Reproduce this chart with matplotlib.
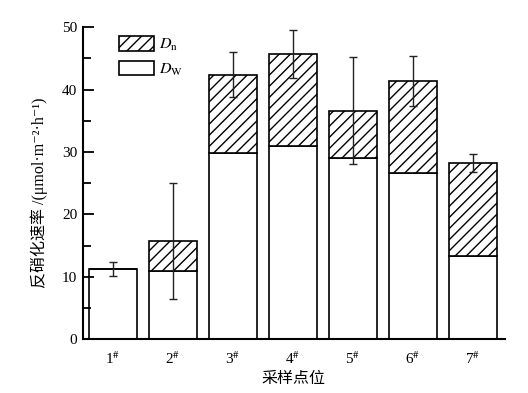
import numpy as np
import matplotlib
matplotlib.use("Agg")
import matplotlib.pyplot as plt
from matplotlib.patches import Patch

plt.rcParams['font.family'] = ['Liberation Serif', 'Noto Sans CJK SC', 'DejaVu Serif']
plt.rcParams['mathtext.fontset'] = 'stix'
plt.rcParams['hatch.linewidth'] = 1.0

sites = ["1", "2", "3", "4", "5", "6", "7"]
dw = [11.2, 11.0, 29.9, 30.9, 29.1, 26.6, 13.3]
total = [11.2, 15.7, 42.4, 45.7, 36.6, 41.4, 28.2]
err = [1.1, 9.3, 3.65, 3.85, 8.6, 4.05, 1.4]

dn = [t - w for t, w in zip(total, dw)]
x = np.arange(len(sites))

fig = plt.figure(figsize=(5.28, 3.93), dpi=100)
ax = fig.add_axes([0.157, 0.137, 0.799, 0.794])

ax.bar(x, dw, width=0.8, color="white", edgecolor="black", linewidth=1.2)
ax.bar(x, dn, width=0.8, bottom=dw, color="white", edgecolor="black",
       linewidth=1.2, hatch="///")
ax.errorbar(x, total, yerr=err, fmt="none", ecolor="#222222", elinewidth=1.0,
            capsize=2.8, capthick=1.0)

ax.set_xlim(-0.5, 6.53)
ax.set_ylim(0, 50)
ax.set_yticks([0, 10, 20, 30, 40, 50])
ax.set_yticks([5, 15, 25, 35, 45], minor=True)
ax.set_xticks(x)
ax.set_xticklabels([s + r"$^{\#}$" for s in sites], fontsize=11)
ax.tick_params(axis="x", length=0, pad=8)
ax.tick_params(axis="y", which="major", direction="in", length=8, width=1.3,
               labelsize=11, pad=4)
ax.tick_params(axis="y", which="minor", direction="in", length=6, width=1.3)

for side in ["top", "right"]:
    ax.spines[side].set_visible(False)
for side in ["left", "bottom"]:
    ax.spines[side].set_linewidth(1.5)

ax.set_xlabel("采样点位", fontsize=11.5, labelpad=3)
ax.set_ylabel("反硝化速率 /(μmol·m⁻²·h⁻¹)", fontsize=11.5)
ax.yaxis.set_label_coords(-0.082, 0.47)

handles = [Patch(facecolor="white", edgecolor="black", hatch="///", linewidth=1.2),
           Patch(facecolor="white", edgecolor="black", linewidth=1.2)]
ax.legend(handles, [r"$D_{\mathrm{n}}$", r"$D_{\mathrm{W}}$"], loc="upper left",
          bbox_to_anchor=(0.085, 0.97), frameon=False, fontsize=11.5,
          borderpad=0, borderaxespad=0, handlelength=2.2, handleheight=1.05,
          handletextpad=0.35, labelspacing=0.45)

fig.savefig("out.png", dpi=100)
